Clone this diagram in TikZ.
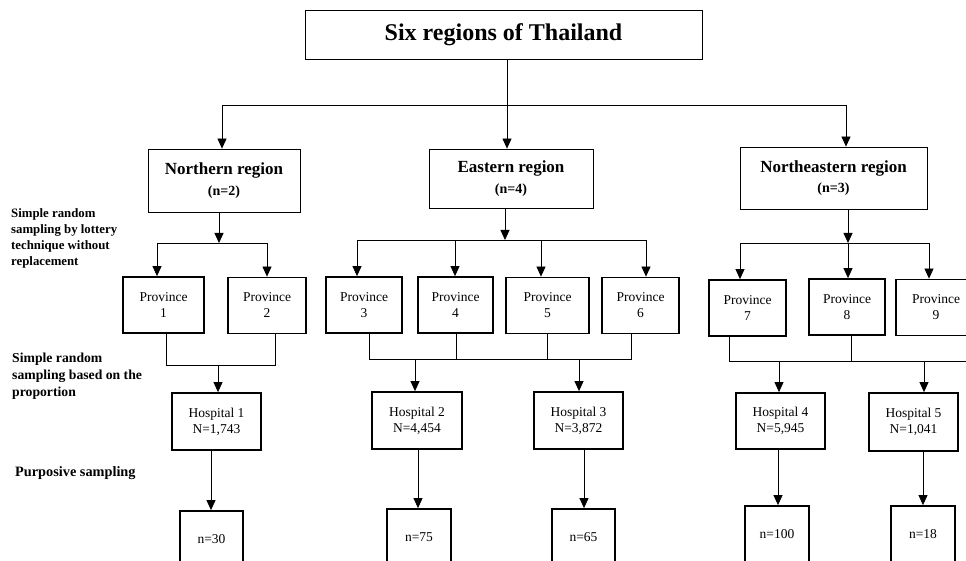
\documentclass[tikz,border=0pt]{standalone}
\usepackage{fontspec}
\setmainfont{Liberation Serif}
\usetikzlibrary{arrows.meta}

\tikzset{
  thinbox/.style={draw, line width=0.8pt, inner sep=0pt, align=center},
  thickbox/.style={draw, line width=1.8pt, inner sep=0pt, align=center,
    font=\fontsize{13.5}{16}\selectfont},
  arr/.style={-{Triangle[width=9pt,length=10pt]}, line width=0.8pt},
  lbl/.style={anchor=north west, inner sep=0pt, align=left},
}

\begin{document}
\begin{tikzpicture}[x=1pt, y=-1pt]
    \useasboundingbox (0,0) rectangle (966,561);

    % Title
    \node[thinbox, minimum width=397, minimum height=49,
      font=\bfseries\fontsize{24}{28}\selectfont] (title) at (503.5,34.5) {Six regions of Thailand};

    % Regions
    \node[thinbox, minimum width=152, minimum height=63] (north) at (224,180.5)
      {\bfseries\fontsize{17}{20}\selectfont Northern region\\[6pt]\bfseries\fontsize{14}{16}\selectfont (n=2)};
    \node[thinbox, minimum width=164, minimum height=59] (east) at (511,178.5)
      {\bfseries\fontsize{17}{20}\selectfont Eastern region\\[6pt]\bfseries\fontsize{14}{16}\selectfont (n=4)};
    \node[thinbox, minimum width=187, minimum height=62] (neast) at (833.5,178)
      {\bfseries\fontsize{17}{20}\selectfont Northeastern region\\[6pt]\bfseries\fontsize{14}{16}\selectfont (n=3)};

    % Provinces
    \foreach \p/\x/\y/\w in {1/163.5/305/81, 2/267/305.5/78, 3/364/305/76, 4/455.5/305/75,
        5/547.5/305.5/83, 6/640.5/305.5/77, 7/747.5/308/77, 8/847/307/76, 9/936/307.5/80}
      \node[thickbox, minimum width=\w, minimum height=56] (P\p) at (\x,\y) {Province\\\p};

    % Hospitals
    \node[thickbox, minimum width=89, minimum height=57] (H1) at (216.5,421.5) {Hospital 1\\N=1,743};
    \node[thickbox, minimum width=90, minimum height=57] (H2) at (417,420.5) {Hospital 2\\N=4,454};
    \node[thickbox, minimum width=89, minimum height=57] (H3) at (578.5,420.5) {Hospital 3\\N=3,872};
    \node[thickbox, minimum width=89, minimum height=56] (H4) at (780.5,421) {Hospital 4\\N=5,945};
    \node[thickbox, minimum width=89, minimum height=58] (H5) at (913.5,422) {Hospital 5\\N=1,041};

    % Samples
    \node[thickbox, minimum width=63, minimum height=56] (S1) at (211.5,539) {n=30};
    \node[thickbox, minimum width=64, minimum height=56] (S2) at (419,537) {n=75};
    \node[thickbox, minimum width=63, minimum height=56] (S3) at (583.5,537) {n=65};
    \node[thickbox, minimum width=64, minimum height=56] (S4) at (777,534) {n=100};
    \node[thickbox, minimum width=64, minimum height=56] (S5) at (923,534) {n=18};

    % Step labels
    \node[lbl, font=\bfseries\fontsize{12.8}{16.3}\selectfont] (step1) at (11,208)
      {Simple random\\sampling by lottery\\technique without\\replacement};
    \node[lbl, font=\bfseries\fontsize{13.7}{17}\selectfont] (step2) at (12,353)
      {Simple random\\sampling based on the\\proportion};
    \node[lbl, font=\bfseries\fontsize{14.3}{17}\selectfont] (step3) at (15,466) {Purposive sampling};

    % Title to regions
    \coordinate (tbus L) at (222,105);
    \coordinate (tbus R) at (846,105);
    \draw[line width=0.8pt] (tbus L) -- (tbus R);
    \draw[arr] (title.south -| 507,0) -- (east.north -| 507,0);
    \draw[arr] (tbus L) -- (north.north -| tbus L);
    \draw[arr] (tbus R) -- (neast.north -| tbus R);

    % Regions to provinces
    \coordinate (nbus L) at (157,243);
    \coordinate (nbus R) at (267,243);
    \draw[arr] (north.south -| 219,0) -- (nbus L -| 219,0);
    \draw[line width=0.8pt] (nbus L) -- (nbus R);
    \draw[arr] (nbus L) -- (P1.north -| nbus L);
    \draw[arr] (nbus R) -- (P2.north -| nbus R);

    \coordinate (ebus L) at (357,240);
    \coordinate (ebus R) at (646,240);
    \draw[arr] (east.south -| 505,0) -- (ebus L -| 505,0);
    \draw[line width=0.8pt] (ebus L) -- (ebus R);
    \foreach \p/\x in {3/357, 4/455, 5/541, 6/646}
      \draw[arr] (ebus L -| \x,0) -- (P\p.north -| \x,0);

    \coordinate (nebus L) at (740,243);
    \coordinate (nebus R) at (929,243);
    \draw[arr] (neast.south -| 848,0) -- (nebus L -| 848,0);
    \draw[line width=0.8pt] (nebus L) -- (nebus R);
    \foreach \p/\x in {7/740, 8/848, 9/929}
      \draw[arr] (nebus L -| \x,0) -- (P\p.north -| \x,0);

    % Provinces to hospitals
    \coordinate (hbus1 L) at (166,365);
    \coordinate (hbus1 R) at (275,365);
    \draw[line width=0.8pt] (P1.south -| hbus1 L) -- (hbus1 L) -- (hbus1 R) -- (P2.south -| hbus1 R);
    \draw[arr] (hbus1 L -| 218,0) -- (H1.north -| 218,0);

    \coordinate (hbus2 L) at (369,359);
    \coordinate (hbus2 R) at (631,359);
    \draw[line width=0.8pt] (P3.south -| hbus2 L) -- (hbus2 L) -- (hbus2 R) -- (P6.south -| hbus2 R);
    \draw[line width=0.8pt] (P4.south -| 456,0) -- (hbus2 L -| 456,0);
    \draw[line width=0.8pt] (P5.south -| 547,0) -- (hbus2 L -| 547,0);
    \draw[arr] (hbus2 L -| 415,0) -- (H2.north -| 415,0);
    \draw[arr] (hbus2 L -| 579,0) -- (H3.north -| 579,0);

    \coordinate (hbus3 L) at (729,361);
    \coordinate (hbus3 R) at (970,361);
    \draw[line width=0.8pt] (P7.south -| hbus3 L) -- (hbus3 L) -- (hbus3 R) -- (P9.south -| hbus3 R);
    \draw[line width=0.8pt] (P8.south -| 851,0) -- (hbus3 L -| 851,0);
    \draw[arr] (hbus3 L -| 779,0) -- (H4.north -| 779,0);
    \draw[arr] (hbus3 L -| 924,0) -- (H5.north -| 924,0);

    % Hospitals to samples
    \foreach \h/\x in {1/211, 2/418, 3/584, 4/778, 5/923}
      \draw[arr] (H\h.south -| \x,0) -- (S\h.north -| \x,0);
\end{tikzpicture}
\end{document}
